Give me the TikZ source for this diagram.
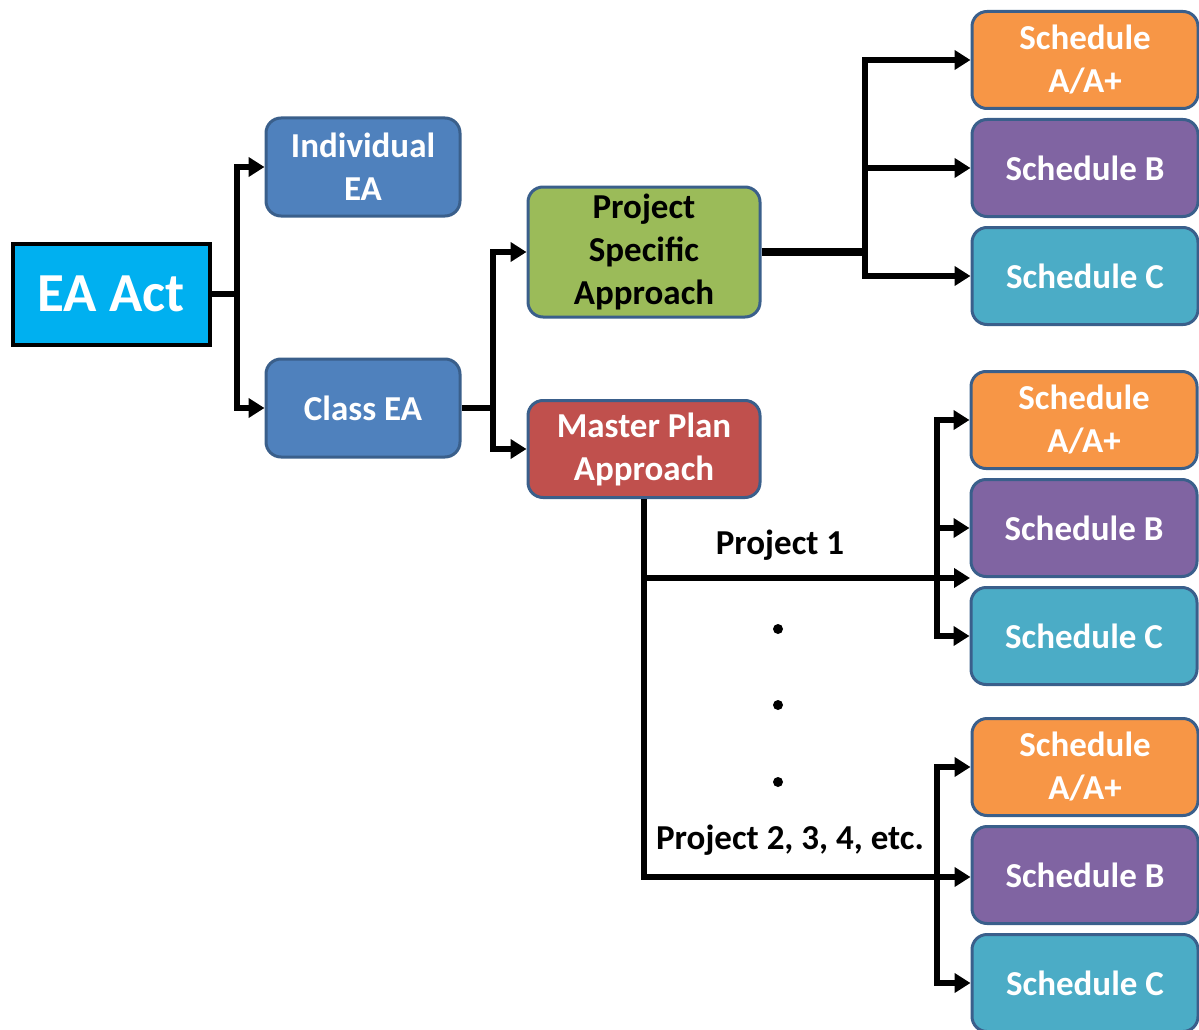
\documentclass[tikz,border=0pt]{standalone}
\usepackage{fontspec}
\setmainfont{Carlito}
\usetikzlibrary{arrows.meta}
\definecolor{eacyan}{HTML}{00B0F0}
\definecolor{blu}{HTML}{4F81BD}
\definecolor{bordblu}{HTML}{3A5F8B}
\definecolor{grn}{HTML}{9BBB59}
\definecolor{redb}{HTML}{C0504D}
\definecolor{orn}{HTML}{F79646}
\definecolor{pur}{HTML}{8064A2}
\definecolor{teal}{HTML}{4BACC6}
\begin{document}
\begin{tikzpicture}[x=1pt,y=-1pt,
  box/.style={draw=bordblu, line width=3pt, rounded corners=15pt, align=center,
    inner sep=0pt, font=\fontsize{35}{43}\selectfont\bfseries, text=white},
  mid/.style={box, minimum width=194pt, minimum height=98pt, fill=blu},
  sched/.style={box, minimum width=226pt, minimum height=97pt},
  conn/.style={line width=6pt, black},
  arr/.style={conn, -{Triangle[length=16pt,width=19pt]}},
  lbl/.style={font=\fontsize{35}{42}\selectfont\bfseries, text=black, inner sep=0pt},
  dotn/.style={circle, fill=black, inner sep=0pt, minimum size=10pt}
]
\useasboundingbox (0,0) rectangle (1199,1030);

% nodes
\node[draw=black, line width=4pt, fill=eacyan, minimum width=197pt, minimum height=101pt,
  inner sep=0pt, text=white, font=\fontsize{55}{60}\selectfont\bfseries] (ea) at (111,294) {EA Act};
\node[mid] (ind) at (363,167) {Individual\\EA};
\node[mid] (cls) at (363,408) {Class EA};
\node[box, fill=grn, text=black, minimum width=232pt, minimum height=130pt] (psa) at (644,252) {Project\\Specific\\Approach};
\node[box, fill=redb, minimum width=232pt, minimum height=97pt] (mpa) at (644,449) {Master Plan\\Approach};

\node[sched, fill=orn] (s1a) at (1085,60) {Schedule\\A/A+};
\node[sched, fill=pur] (s1b) at (1085,168) {Schedule B};
\node[sched, fill=teal] (s1c) at (1085,276) {Schedule C};

\node[sched, fill=orn] (s2a) at (1084,420) {Schedule\\A/A+};
\node[sched, fill=pur] (s2b) at (1084,528) {Schedule B};
\node[sched, fill=teal] (s2c) at (1084,636) {Schedule C};

\node[sched, fill=orn] (s3a) at (1085,767) {Schedule\\A/A+};
\node[sched, fill=pur] (s3b) at (1085,875) {Schedule B};
\node[sched, fill=teal] (s3c) at (1085,983) {Schedule C};

\node[lbl] (p1) at (780,545) {Project 1};
\node[lbl] (p2) at (790,840) {Project 2, 3, 4, etc.};
\node[dotn] (d1) at (778,629) {};
\node[dotn] (d2) at (778,705) {};
\node[dotn] (d3) at (778,782) {};

% connectors
\coordinate (j1) at (237,294);
\draw[conn] (ea.east) -- (j1);
\draw[arr] (j1) |- (ind.west);
\draw[arr] (j1) |- (cls.west);

\coordinate (j2) at (493,408);
\draw[conn] (cls.east) -- (j2);
\draw[arr] (j2) |- (psa.west);
\draw[arr] (j2) |- (mpa.west);

\coordinate (j3) at (865,252);
\draw[conn, line width=8pt] (psa.east) -- (j3);
\draw[arr] (j3) |- (s1a.west);
\draw[arr] (j3) |- (s1b.west);
\draw[arr] (j3) |- (s1c.west);

\coordinate (m1) at (644,578);
\coordinate (m2) at (644,877);
\coordinate (p1end) at (970,578);
\draw[conn] (mpa.south) -- ([yshift=3pt]m2);
\draw[arr] (m1) -- (p1end);
\draw[arr] ([xshift=-3pt]m2) -- (m2 -| s3b.west);

\coordinate (v2) at (937,528);
\draw[arr] (v2) |- (s2a.west);
\draw[arr] (v2) |- (s2b.west);
\draw[arr] (v2) |- (s2c.west);

\coordinate (v3) at (937,875);
\draw[arr] (v3) |- (s3a.west);
\draw[arr] (v3) |- (s3c.west);
\end{tikzpicture}
\end{document}
